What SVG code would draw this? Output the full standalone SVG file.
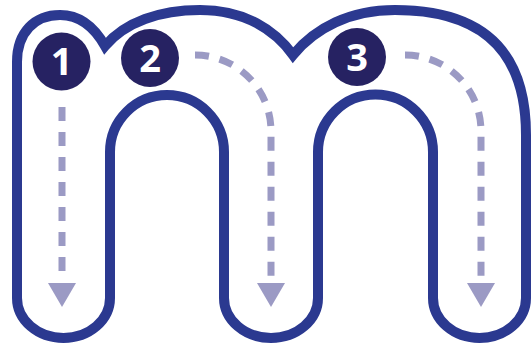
<svg xmlns="http://www.w3.org/2000/svg" width="532" height="352" viewBox="0 0 532 352">
  <style>
    .outline { fill: none; stroke: #2b3990; stroke-width: 10; stroke-linejoin: miter; stroke-miterlimit: 10; }
    .badge { fill: #262262; }
    .num { fill: #ffffff; font-family: "Open Sans", "Liberation Sans", sans-serif; font-weight: 700; font-size: 38px; text-anchor: middle; }
    .flow { fill: none; stroke: #9b9ac4; stroke-width: 7; stroke-dasharray: 14 11; marker-end: url(#ah); }
  </style>
  <defs>
    <marker id="ah" markerUnits="userSpaceOnUse" markerWidth="30" markerHeight="30" refX="0" refY="14" orient="auto" overflow="visible">
      <path d="M2,0 L26,14 L2,28 Z" fill="#9b9ac4"/>
    </marker>
  </defs>
  <rect width="532" height="352" fill="#ffffff"/>
  <g id="letter-m">
    <path class="outline" d="M17,298 L17,62 C17,32 35,15 60,15 C82,15 96,30 105,46 C125,22 160,10 200,10 C245,10 275,30 293,55 C315,28 350,10 395,10 C470,10 526,40 526,135 L526,298 A46.5,40 0 0 1 433,298 L433,152 A57.5,57.5 0 0 0 318,152 L318,298 A47,40 0 0 1 224,298 L224,152 A57,57 0 0 0 110,152 L110,298 A46.5,40 0 0 1 17,298 Z"/>
  </g>
  <g id="connectors">
    <path class="flow" d="M62,107 L62,281"/>
    <path class="flow" d="M195,55 A76,76 0 0 1 271,131 L271,281"/>
    <path class="flow" d="M405,55 A76,76 0 0 1 481,131 L481,281"/>
  </g>
  <g id="step-1">
    <circle class="badge" cx="61.5" cy="61.5" r="29"/>
    <text class="num" x="61.5" y="75">1</text>
  </g>
  <g id="step-2">
    <circle class="badge" cx="150" cy="58" r="29"/>
    <text class="num" x="150" y="71.5">2</text>
  </g>
  <g id="step-3">
    <circle class="badge" cx="357" cy="57" r="29"/>
    <text class="num" x="357" y="70.5">3</text>
  </g>
</svg>
